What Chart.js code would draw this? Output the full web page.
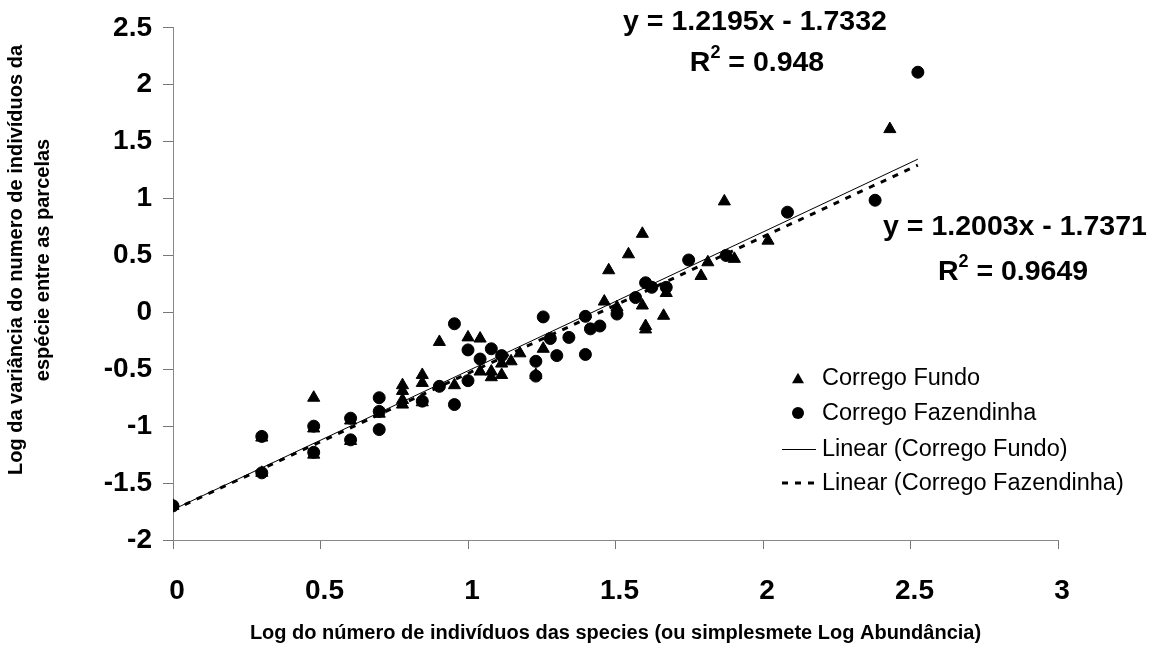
<!DOCTYPE html>
<html>
<head>
<meta charset="utf-8">
<script src="https://cdn.jsdelivr.net/npm/chart.js@4.4.1/dist/chart.umd.min.js"></script>
<style>
  html, body { margin: 0; padding: 0; background: #fff; }
  canvas { display: block; }
</style>
</head>
<body>
<canvas id="chart" width="1159" height="650"></canvas>
<script>
// Log abundance (x) vs log variance (y) per species, two streams
const fundoX = [0, 0.301, 0.301, 0.477, 0.477, 0.477, 0.602, 0.602, 0.699, 0.778, 0.778, 0.778, 0.778,
  0.845, 0.845, 0.845, 0.903, 0.954, 1.0, 1.041, 1.041, 1.079, 1.079, 1.114, 1.114, 1.146, 1.176, 1.23,
  1.255, 1.462, 1.477, 1.505, 1.544, 1.591, 1.591, 1.602, 1.602, 1.663, 1.672, 1.79, 1.813, 1.869, 1.903,
  2.017, 2.43];
const fundoY = [-1.70, -1.10, -1.41, -0.75, -1.02, -1.25, -0.95, -1.13, -0.89, -0.64, -0.69, -0.77, -0.81,
  -0.55, -0.62, -0.79, -0.26, -0.64, -0.22, -0.23, -0.52, -0.52, -0.57, -0.45, -0.55, -0.43, -0.36, -0.55,
  -0.32, 0.095, 0.37, 0.045, 0.51, 0.69, 0.06, -0.12, -0.15, -0.03, 0.17, 0.32, 0.44, 0.975, 0.47,
  0.63, 1.61];

const fazX = [0, 0.301, 0.301, 0.477, 0.477, 0.602, 0.602, 0.699, 0.699, 0.699, 0.845, 0.903, 0.954, 0.954,
  1.0, 1.0, 1.041, 1.079, 1.114, 1.23, 1.23, 1.255, 1.279, 1.301, 1.342, 1.398, 1.398, 1.415, 1.447,
  1.505, 1.568, 1.602, 1.623, 1.672, 1.748, 1.875, 2.083, 2.38, 2.525];
const fazY = [-1.70, -1.09, -1.41, -1.00, -1.23, -0.93, -1.12, -0.75, -0.87, -1.03, -0.78, -0.65, -0.10, -0.81,
  -0.33, -0.60, -0.41, -0.32, -0.38, -0.43, -0.56, -0.04, -0.23, -0.38, -0.22, -0.035, -0.37, -0.145, -0.12,
  -0.015, 0.13, 0.26, 0.22, 0.22, 0.46, 0.50, 0.88, 0.985, 2.11];

// Linear fits as stated on the chart
const fundoSlope = 1.2195, fundoIntercept = -1.7332, fundoR2 = '0.948';
const fazSlope = 1.2003, fazIntercept = -1.7371, fazR2 = '0.9649';
const fitRange = [0, 2.525];

const seriesNames = ['Corrego Fundo', 'Corrego Fazendinha', 'Linear (Corrego Fundo)', 'Linear (Corrego Fazendinha)'];
const xTickLabels = ['0', '0.5', '1', '1.5', '2', '2.5', '3'];
const yTickLabels = ['-2', '-1.5', '-1', '-0.5', '0', '0.5', '1', '1.5', '2', '2.5'];
const xTitle = 'Log do número de indivíduos das species (ou simplesmete Log Abundância)';
const yTitle = ['Log da variância do numero de indivíduos da', 'espécie entre as parcelas'];

const FONT = "'Liberation Sans', Arial, Helvetica, sans-serif";
const toPoints = (xs, ys) => xs.map((x, i) => ({ x, y: ys[i] }));
const fitLine = (m, b) => fitRange.map(x => ({ x, y: m * x + b }));
const fmt = (m, b) => 'y = ' + m.toFixed(4) + 'x ' + (b < 0 ? '- ' : '+ ') + Math.abs(b).toFixed(4);

function drawTriangle(ctx, x, y, w) {
  const h = w * 0.88;
  ctx.beginPath();
  ctx.moveTo(x, y - h / 2);
  ctx.lineTo(x + w / 2, y + h / 2);
  ctx.lineTo(x - w / 2, y + h / 2);
  ctx.closePath();
  ctx.fill();
}

function drawR2(ctx, value, cx, cy, size) {
  const big = 'bold ' + size + 'px ' + FONT;
  const small = 'bold ' + Math.round(size * 0.62) + 'px ' + FONT;
  ctx.font = big; const wR = ctx.measureText('R').width;
  const rest = ' = ' + value; const wRest = ctx.measureText(rest).width;
  ctx.font = small; const w2 = ctx.measureText('2').width;
  let x = cx - (wR + w2 + wRest) / 2;
  ctx.textAlign = 'left';
  ctx.textBaseline = 'middle';
  ctx.font = big; ctx.fillText('R', x, cy); x += wR;
  ctx.font = small; ctx.fillText('2', x, cy - size * 0.36); x += w2;
  ctx.font = big; ctx.fillText(rest, x, cy);
}

const annotations = {
  id: 'annotations',
  afterDraw(chart) {
    const ctx = chart.ctx;
    ctx.save();
    ctx.fillStyle = '#000';

    // vertical axis title, two rotated lines
    ctx.save();
    ctx.translate(16.5, 260);
    ctx.rotate(-Math.PI / 2);
    ctx.font = 'bold 20px ' + FONT;
    ctx.textAlign = 'center';
    ctx.textBaseline = 'middle';
    yTitle.forEach((line, i) => ctx.fillText(line, 0, i * 27));
    ctx.restore();

    // regression equations
    const eqSize = 28.5;
    ctx.font = 'bold ' + eqSize + 'px ' + FONT;
    ctx.textAlign = 'center';
    ctx.textBaseline = 'middle';
    ctx.fillText(fmt(fundoSlope, fundoIntercept), 755, 22);
    drawR2(ctx, fundoR2, 757, 63, eqSize);
    ctx.font = 'bold ' + eqSize + 'px ' + FONT;
    ctx.textAlign = 'center';
    ctx.fillText(fmt(fazSlope, fazIntercept), 1015, 227);
    drawR2(ctx, fazR2, 1013, 272, eqSize);

    // legend
    const lx = 798, tx = 822, rows = [378, 413, 449, 483];
    ctx.font = '23.5px ' + FONT;
    ctx.textAlign = 'left';
    ctx.textBaseline = 'middle';
    drawTriangle(ctx, lx, rows[0], 12);
    ctx.beginPath(); ctx.arc(lx, rows[1], 6, 0, Math.PI * 2); ctx.fill();
    ctx.strokeStyle = '#000';
    ctx.lineWidth = 1;
    ctx.beginPath(); ctx.moveTo(782, rows[2] + 0.5); ctx.lineTo(816, rows[2] + 0.5); ctx.stroke();
    ctx.lineWidth = 3;
    ctx.setLineDash([6, 7]);
    ctx.beginPath(); ctx.moveTo(782, rows[3]); ctx.lineTo(816, rows[3]); ctx.stroke();
    ctx.setLineDash([]);
    seriesNames.forEach((name, i) => ctx.fillText(name, tx, rows[i] + 1));
    ctx.restore();
  }
};

new Chart(document.getElementById('chart'), {
  type: 'scatter',
  data: {
    datasets: [
      {
        label: seriesNames[0],
        data: toPoints(fundoX, fundoY),
        pointStyle: 'triangle',
        pointRadius: 7,
        pointBorderWidth: 1,
        backgroundColor: '#000',
        borderColor: '#000'
      },
      {
        label: seriesNames[1],
        data: toPoints(fazX, fazY),
        pointStyle: 'circle',
        pointRadius: 6,
        pointBorderWidth: 1,
        backgroundColor: '#000',
        borderColor: '#000'
      },
      {
        type: 'line',
        label: seriesNames[2],
        data: fitLine(fundoSlope, fundoIntercept),
        borderColor: '#000',
        borderWidth: 1,
        pointRadius: 0,
        fill: false
      },
      {
        type: 'line',
        label: seriesNames[3],
        data: fitLine(fazSlope, fazIntercept),
        borderColor: '#000',
        borderWidth: 3,
        borderDash: [6, 7],
        pointRadius: 0,
        fill: false
      }
    ]
  },
  options: {
    responsive: false,
    animation: false,
    layout: { padding: { top: 21, right: 101, left: 0, bottom: 0 } },
    plugins: { legend: { display: false }, tooltip: { enabled: false } },
    scales: {
      x: {
        type: 'linear',
        min: 0, max: 3,
        afterFit: s => { s.height = 110; },
        afterBuildTicks: s => { s.ticks = xTickLabels.map(t => ({ value: parseFloat(t) })); },
        ticks: {
          autoSkip: false, maxRotation: 0, padding: 25, labelOffset: 4, color: '#000',
          font: { family: FONT, size: 28, weight: 'bold' },
          callback: (v, i) => xTickLabels[i]
        },
        grid: { drawOnChartArea: false, drawTicks: true, tickLength: 9, color: '#777' },
        border: { display: true, color: '#888', width: 1 },
        title: {
          display: true, text: xTitle, color: '#000',
          font: { family: FONT, size: 20, weight: 'bold' },
          padding: { top: 0, bottom: 5 }
        }
      },
      y: {
        type: 'linear',
        min: -2, max: 2.5,
        afterFit: s => { s.width = 173; },
        afterBuildTicks: s => { s.ticks = yTickLabels.map(t => ({ value: parseFloat(t) })); },
        ticks: {
          autoSkip: false, padding: 11, color: '#000',
          font: { family: FONT, size: 28, weight: 'bold' },
          callback: (v, i) => yTickLabels[i]
        },
        grid: { drawOnChartArea: false, drawTicks: true, tickLength: 10, color: '#777' },
        border: { display: true, color: '#888', width: 1 }
      }
    }
  },
  plugins: [annotations]
});
</script>
</body>
</html>
